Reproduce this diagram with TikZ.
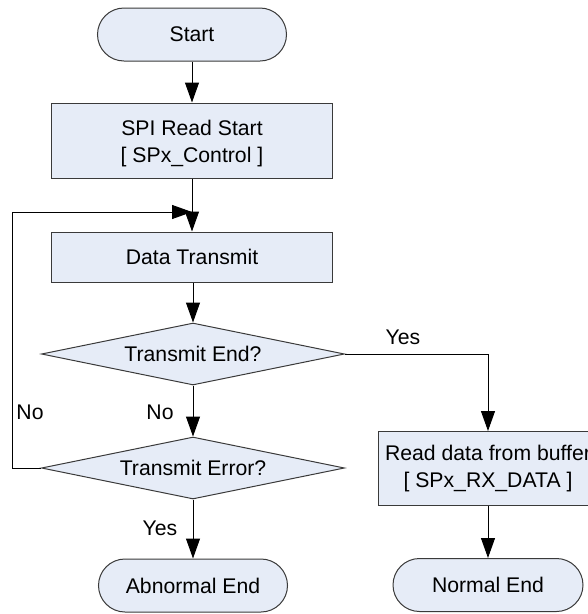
\documentclass[tikz,border=0pt]{standalone}
\usepackage{fontspec}
\setmainfont{Liberation Sans}
\usetikzlibrary{shapes.geometric,arrows.meta}

\definecolor{boxfill}{HTML}{E6ECF7}
\definecolor{edgeline}{HTML}{3A3A3A}

\tikzset{
  txt/.style={font=\fontsize{21.2}{27}\selectfont, align=center, inner sep=0pt},
  base/.style={txt, draw=edgeline, line width=1pt, fill=boxfill},
  terminal/.style={base, rectangle, rounded corners=26.5pt,
                   minimum width=189pt, minimum height=53pt},
  process/.style={base, rectangle, minimum width=281pt},
  decision/.style={base, diamond, shape aspect=5,
                   minimum width=303pt, minimum height=62pt},
  flow/.style={draw=black, line width=1pt,
               -{Triangle[length=20pt,width=14pt]}},
  lbl/.style={txt}
}

\begin{document}
\begin{tikzpicture}[x=1pt, y=-1pt]
  \useasboundingbox (0,0) rectangle (588,614);
  \clip (0,0) rectangle (588,614);

  % main column
  \node[terminal] (start) at (192,34.5) {Start};
  \node[process, minimum height=75pt] (spi) at (192,140.5) {};
  \node[txt] (spitext) at ([yshift=-3pt]spi.center)
       {SPI Read Start\\{[} SPx\_Control ]};
  \node[process, minimum height=50pt] (dt) at (192,257) {Data Transmit};
  \node[decision] (tend) at (193,354) {Transmit End?};
  \node[decision] (terr) at (193,468) {Transmit Error?};
  \node[terminal] (abn) at (193,585.5) {Abnormal End};

  % right column
  \node[base, rectangle, minimum width=220pt, minimum height=74pt]
       (read) at (488,468.5) {Read data from buffer\\{[} SPx\_RX\_DATA ]};
  \node[terminal, minimum width=190pt] (normal) at (488,585) {Normal End};

  % loop-back point above the transmit step
  \coordinate (join) at (192,212);
  \coordinate (loopL) at (12,468);
  \coordinate (loopT) at (12,212);
  \coordinate (yesR) at (488,354);

  % connectors
  \draw[flow] (start) -- (spi);
  \draw[flow] (spi) -- (dt);
  \draw[flow] (dt.south -| tend.north) -- (tend.north);
  \draw[flow] (tend) -- (terr);
  \draw[flow] (terr) -- (abn);
  \draw[flow] (terr.west) -- (loopL) -- (loopT) -- (join);
  \draw[flow] (tend.east) -- (yesR) -- (read.north);
  \draw[flow] (read) -- (normal);

  % branch labels
  \node[lbl] (yes1) at (403,337) {Yes};
  \node[lbl] (no1) at (30,412) {No};
  \node[lbl] (no2) at (160,412) {No};
  \node[lbl] (yes2) at (160,528) {Yes};
\end{tikzpicture}
\end{document}
